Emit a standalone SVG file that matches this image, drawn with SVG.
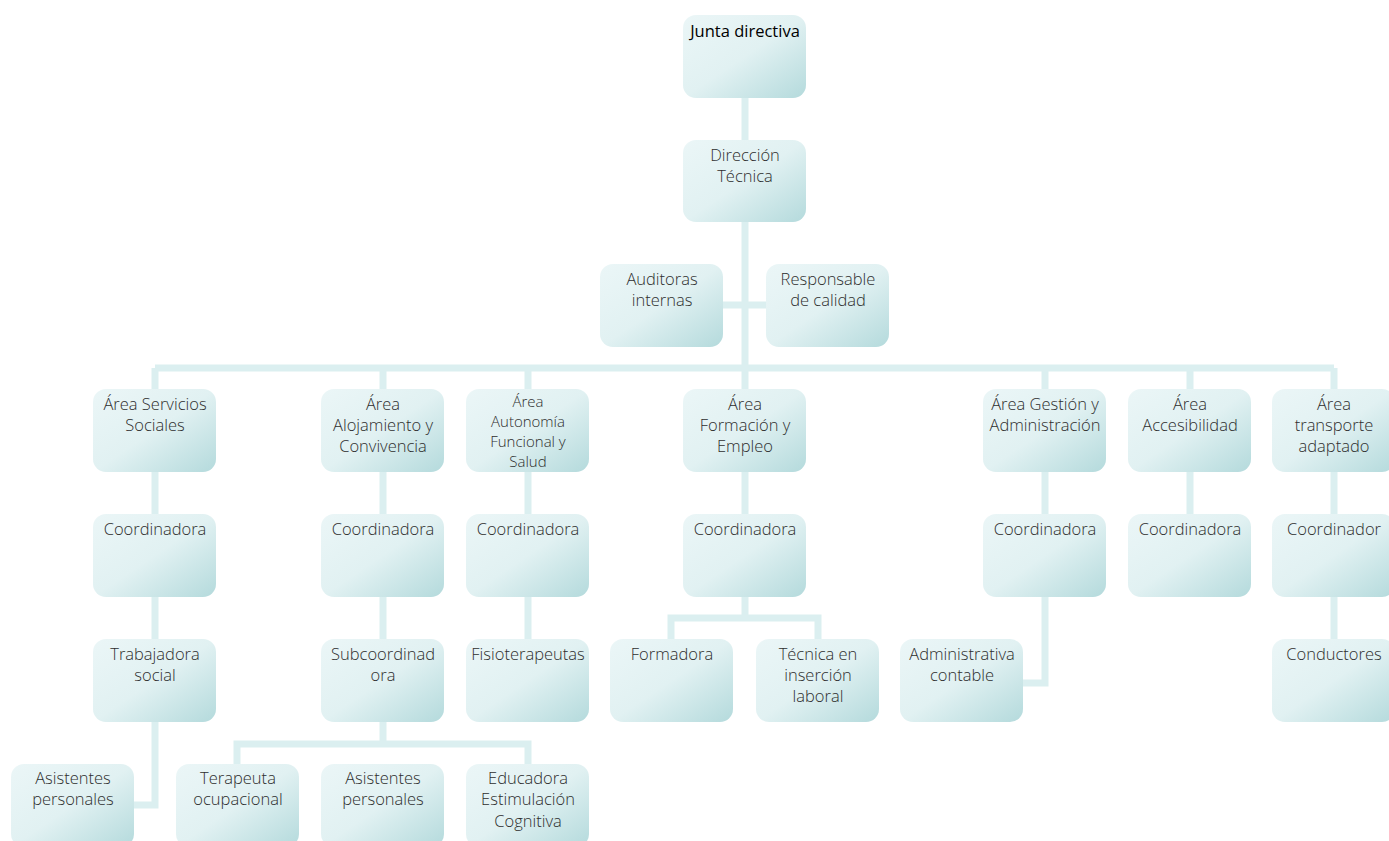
<svg xmlns="http://www.w3.org/2000/svg" width="1389" height="841" viewBox="0 0 1389 841">
<defs>
<linearGradient id="g" x1="0" y1="0" x2="1" y2="1">
<stop offset="0" stop-color="#ebf6f7"/>
<stop offset="0.5" stop-color="#e1f1f2"/>
<stop offset="1" stop-color="#b4dadc"/>
</linearGradient>
<style>
.n rect{fill:url(#g);}
.n text{font-family:"Open Sans","Liberation Sans",sans-serif;font-weight:300;font-size:16.5px;fill:#2e2e2e;text-anchor:middle;}
.n text.s{font-size:15px;}
.c path{fill:none;stroke:#dbeff0;stroke-width:7;}
</style>
</defs>
<rect width="1389" height="841" fill="#ffffff"/>
<g class="c">
<path d="M745 98V368"/>
<path d="M723 305H766"/>
<path d="M155 368H1334"/>
<path d="M155 368V805H134"/>
<path d="M383 368V744"/>
<path d="M237 764V744H528V764"/>
<path d="M528 368V639"/>
<path d="M745 368V618"/>
<path d="M671 639V618H818V639"/>
<path d="M1045 368V683H1023"/>
<path d="M1190 368V514"/>
<path d="M1334 368V639"/>
</g>
<g id="junta" class="n"><rect x="683" y="15" width="123" height="83" rx="13"/><text x="745" y="37" style="fill:#000;font-weight:400">Junta directiva</text></g>
<g id="direccion" class="n"><rect x="683" y="140" width="123" height="82" rx="13"/><text x="745" y="161">Dirección</text><text x="745" y="182">Técnica</text></g>
<g id="auditoras" class="n"><rect x="600" y="264" width="123" height="83" rx="13"/><text x="662" y="285">Auditoras</text><text x="662" y="306">internas</text></g>
<g id="responsable" class="n"><rect x="766" y="264" width="123" height="83" rx="13"/><text x="828" y="285">Responsable</text><text x="828" y="306">de calidad</text></g>

<g id="servicios" class="n"><rect x="93" y="389" width="123" height="83" rx="13"/><text x="155" y="410">Área Servicios</text><text x="155" y="431">Sociales</text></g>
<g id="alojamiento" class="n"><rect x="321" y="389" width="123" height="83" rx="13"/><text x="383" y="410">Área</text><text x="383" y="431">Alojamiento y</text><text x="383" y="452">Convivencia</text></g>
<g id="autonomia" class="n"><rect x="466" y="389" width="123" height="83" rx="13"/><text class="s" x="528" y="407">Área</text><text class="s" x="528" y="427">Autonomía</text><text class="s" x="528" y="447">Funcional y</text><text class="s" x="528" y="467">Salud</text></g>
<g id="formacion" class="n"><rect x="683" y="389" width="123" height="83" rx="13"/><text x="745" y="410">Área</text><text x="745" y="431">Formación y</text><text x="745" y="452">Empleo</text></g>
<g id="gestion" class="n"><rect x="983" y="389" width="123" height="83" rx="13"/><text x="1045" y="410">Área Gestión y</text><text x="1045" y="431">Administración</text></g>
<g id="accesibilidad" class="n"><rect x="1128" y="389" width="123" height="83" rx="13"/><text x="1190" y="410">Área</text><text x="1190" y="431">Accesibilidad</text></g>
<g id="transporte" class="n"><rect x="1272" y="389" width="123" height="83" rx="13"/><text x="1334" y="410">Área</text><text x="1334" y="431">transporte</text><text x="1334" y="452">adaptado</text></g>

<g id="coord1" class="n"><rect x="93" y="514" width="123" height="83" rx="13"/><text x="155" y="535">Coordinadora</text></g>
<g id="coord2" class="n"><rect x="321" y="514" width="123" height="83" rx="13"/><text x="383" y="535">Coordinadora</text></g>
<g id="coord3" class="n"><rect x="466" y="514" width="123" height="83" rx="13"/><text x="528" y="535">Coordinadora</text></g>
<g id="coord4" class="n"><rect x="683" y="514" width="123" height="83" rx="13"/><text x="745" y="535">Coordinadora</text></g>
<g id="coord5" class="n"><rect x="983" y="514" width="123" height="83" rx="13"/><text x="1045" y="535">Coordinadora</text></g>
<g id="coord6" class="n"><rect x="1128" y="514" width="123" height="83" rx="13"/><text x="1190" y="535">Coordinadora</text></g>
<g id="coord7" class="n"><rect x="1272" y="514" width="123" height="83" rx="13"/><text x="1334" y="535">Coordinador</text></g>

<g id="trabajadora" class="n"><rect x="93" y="639" width="123" height="83" rx="13"/><text x="155" y="660">Trabajadora</text><text x="155" y="681">social</text></g>
<g id="subcoord" class="n"><rect x="321" y="639" width="123" height="83" rx="13"/><text x="383" y="660">Subcoordinad</text><text x="383" y="681">ora</text></g>
<g id="fisio" class="n"><rect x="466" y="639" width="123" height="83" rx="13"/><text x="528" y="660">Fisioterapeutas</text></g>
<g id="formadora" class="n"><rect x="610" y="639" width="123" height="83" rx="13"/><text x="672" y="660">Formadora</text></g>
<g id="tecnica" class="n"><rect x="756" y="639" width="123" height="83" rx="13"/><text x="818" y="660">Técnica en</text><text x="818" y="681">inserción</text><text x="818" y="702">laboral</text></g>
<g id="administrativa" class="n"><rect x="900" y="639" width="123" height="83" rx="13"/><text x="962" y="660">Administrativa</text><text x="962" y="681">contable</text></g>
<g id="conductores" class="n"><rect x="1272" y="639" width="123" height="83" rx="13"/><text x="1334" y="660">Conductores</text></g>

<g id="asistentes1" class="n"><rect x="11" y="764" width="123" height="83" rx="13"/><text x="73" y="784">Asistentes</text><text x="73" y="805">personales</text></g>
<g id="terapeuta" class="n"><rect x="176" y="764" width="123" height="83" rx="13"/><text x="238" y="784">Terapeuta</text><text x="238" y="805">ocupacional</text></g>
<g id="asistentes2" class="n"><rect x="321" y="764" width="123" height="83" rx="13"/><text x="383" y="784">Asistentes</text><text x="383" y="805">personales</text></g>
<g id="educadora" class="n"><rect x="466" y="764" width="123" height="83" rx="13"/><text x="528" y="784">Educadora</text><text x="528" y="805">Estimulación</text><text x="528" y="827">Cognitiva</text></g>
</svg>
